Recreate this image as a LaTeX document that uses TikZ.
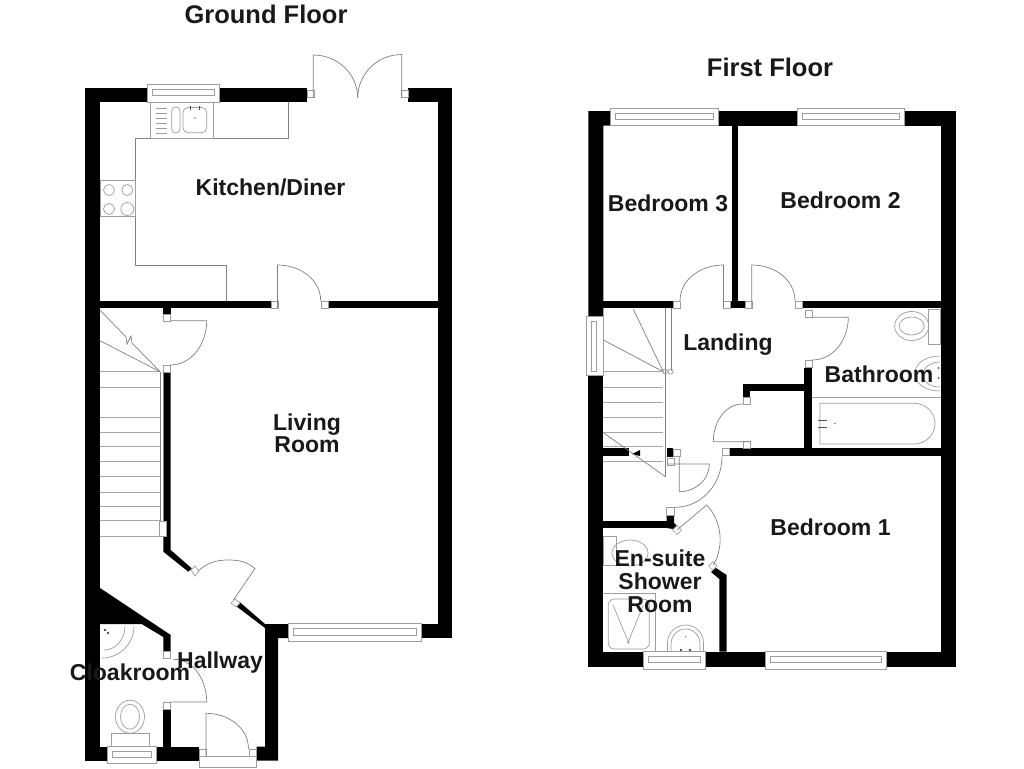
\documentclass[tikz,border=0pt]{standalone}
\usepackage{fontspec}
\setmainfont{Liberation Sans}
\tikzset{
  wall/.style={fill=black},
  thinline/.style={draw=black!50,line width=0.7pt},
  fitting/.style={draw=black!38,line width=0.7pt},
  jamb/.style={draw=black!38,fill=white,line width=0.7pt},
  tread/.style={draw=black!35,line width=1pt},
  room/.style={font=\fontsize{23}{24}\selectfont\bfseries,align=center,inner sep=0pt,text=black!90},
  title/.style={font=\fontsize{25.5}{27}\selectfont\bfseries,inner sep=0pt,text=black!90}
}
\begin{document}
\begin{tikzpicture}[x=1pt,y=-1pt]
\useasboundingbox[fill=white] (0,0) rectangle (1024,768);
% ground floor
\fill[wall] (85,88) rectangle (147,102);
\fill[wall] (100,588) -- (170.7,635) -- (170.7,652) -- (163.3,652) -- (163.3,637) -- (141.7,624) -- (100,624) -- cycle;
\fill[wall] (85,88) rectangle (100,761);
\fill[wall] (219,88) rectangle (307,102);
\fill[wall] (408,88) rectangle (451.7,102);
\fill[wall] (437.7,88) rectangle (451.7,638);
\fill[wall] (421.7,624) rectangle (451.7,638);
\fill[wall] (100,300.7) rectangle (271.7,308.3);
\fill[wall] (328.3,300.7) rectangle (437.7,308.3);
\fill[wall] (163.3,308) rectangle (170.7,314);
\fill[wall] (163.3,371.7) -- (170.7,371.7) -- (170.7,550) -- (191.7,568.3) -- (188.3,571.7) -- (163.3,551.7) -- cycle;
\fill[wall] (239.3,601.7) -- (265,624) -- (288,624) -- (288,638) -- (278,638) -- (278,760.7) -- (256.7,760.7) -- (256.7,746.7) -- (265,746.7) -- (265,628) -- (236,606) -- cycle;
\fill[wall] (107,746.7) -- (85,746.7) -- (85,760.7) -- (107,760.7) -- cycle;
\fill[wall] (156.7,746.7) rectangle (199,760.7);
\fill[wall] (163.3,709.3) rectangle (170.7,746.7);
\foreach \xa/\ya in {307/90.5,401/90.5,271.5/301,321/301,163.3/314,163.3/365,163.3/651.7,163.3/702,199.5/749,249.5/749}
  \draw[jamb] (\xa,\ya) rectangle ++(7,7);
\draw[jamb] (191,570) -- (195,566) -- (199,571) -- (195,576) -- cycle;
\draw[jamb] (231,603) -- (235,599) -- (240,603) -- (236,607) -- cycle;
% ground floor windows
\foreach \xa/\ya/\xb/\yb in {147/84.5/219/102,288/623.5/421.7/641.7,107/746.7/156.7/763.5}{
  \draw[jamb] (\xa,\ya) rectangle (\xb,\yb);
  \draw[fitting] ({\xa+5},{\ya+5}) rectangle ({\xb-5},{\yb-6.5});
}
\draw[jamb] (199,756.7) rectangle (256.7,767);
% ground floor doors
\draw[thinline] (313.3,98) -- (313.3,55) to[out=0,in=90] (357.7,98);
\draw[thinline] (401.7,98) -- (401.7,54.5) to[out=180,in=90] (357.7,98);
\draw[thinline] (277.5,308) -- (277.5,265) to[out=0,in=90] (320.7,301);
\draw[thinline] (170,320.7) -- (206.7,320.7) to[out=-90,in=0] (170,365);
\draw[thinline] (198,571) to[out=40,in=180] (228,560) to[out=0,in=140] (255,568.5) -- (233.5,600);
\draw[thinline] (170,702) -- (206.7,702) to[out=90,in=0] (173.3,659.3);
\draw[thinline] (206,756) -- (206,713.3) to[out=0,in=90] (248.5,749);
% kitchen units
\draw[thinline] (135.7,138.3) -- (288.3,138.3) -- (288.3,102);
\draw[thinline] (135.7,138.3) -- (135.7,265) -- (226.7,265) -- (226.7,300.7);
\draw[fitting] (150,102) rectangle (213.3,138.3);
\draw[fitting] (100,180.7) rectangle (135.7,216.7);
\foreach \xa/\ya/\ra in {109/190/5.5,127.3/190/5.5,109/209/5.5,127.3/209/6.5}
  \draw[fitting] (\xa,\ya) circle (\ra);
\foreach \ya in {108,113,118,123,128,133}
  \draw[fitting] (156,\ya) -- (166.7,\ya);
\draw[fitting,rounded corners=4pt] (171.7,107) rectangle (180,133);
\draw[fitting,rounded corners=5pt] (183,107.5) rectangle (206.7,132.7);
\draw[black!70,line width=1pt] (190,105.5) -- (190,110) (199.3,105.5) -- (199.3,110);
\fill[black!50] (195,118) circle (0.8);
% ground floor stairs
\foreach \ya in {371.7,387.3,417.7,432,446,461.3,476.3,492,506.7,520.3,536}
  \draw[tread] (100,\ya) -- (160,\ya);
\draw[thinline] (160,371.7) -- (160,521.7) (163,371.7) -- (163,521.7);
\draw[jamb] (159,521.7) rectangle (166.7,536);
\draw[thinline] (100,310) -- (126,337) -- (127,344) -- (131,336) -- (132,343) -- (160,371.7);
\draw[thinline] (100,340.7) -- (160,371.7);
% cloakroom fittings
\draw[fitting] (134,626) to[out=-90,in=0] (102,658);
\draw[fitting] (125,626) to[out=-90,in=0] (104,650);
\fill[black!70] (105,630) circle (1.4) (108,633) circle (1.4);
\draw[fitting] (130,716.7) ellipse (14.5 and 16.5);
\draw[fitting] (130,716.7) ellipse (9.5 and 12.5);
\draw[fitting] (111,733) rectangle (149,746.7);
% first floor
\fill[wall] (588.3,111) -- (610.7,111) -- (610.7,125.7) -- (603.3,125.7) -- (603.3,316) -- (588.3,316) -- cycle;
\fill[wall] (588.3,375.7) rectangle (603.3,666.7);
\fill[wall] (718.3,111) rectangle (797.3,125.7);
\fill[wall] (904.3,111) rectangle (955.7,125.7);
\fill[wall] (940.7,111) rectangle (955.7,666.7);
\fill[wall] (731.7,125.7) rectangle (738.3,308.3);
\fill[wall] (603.3,301) rectangle (672.7,308.3);
\fill[wall] (730.7,301) rectangle (745,308.3);
\fill[wall] (802.7,301) rectangle (941,308.3);
\fill[wall] (804.3,367.7) rectangle (811.7,448.3);
\fill[wall] (742.7,384) rectangle (804.3,391);
\fill[wall] (742.7,384) rectangle (750,397.3);
\fill[wall] (730,448.3) rectangle (941,455.7);
\fill[wall] (603.3,448.3) rectangle (629.3,455.7);
\fill[wall] (632,454) -- (640,450) -- (640,456) -- cycle;
\fill[wall] (667.3,448.3) rectangle (672.7,457);
\fill[wall] (603.3,520.7) rectangle (674,528.3);
\fill[wall] (666.7,515) -- (674,515) -- (674,523) -- (677,526) -- (673,529) -- (666.7,528) -- cycle;
\fill[wall] (716,568) -- (726.7,575) -- (726.7,651.7) -- (719.3,651.7) -- (719.3,579) -- (711,572) -- cycle;
\fill[wall] (588.3,651.7) rectangle (643.3,666.7);
\fill[wall] (705,651.7) rectangle (765,666.7);
\fill[wall] (886,651.7) rectangle (955.7,666.7);
\foreach \xa/\ya in {673/301,723.5/301,745/301,795.5/301,805/310,805/360.5,743/397.5,743/441.5,722/448.5,673/449,667/458}
  \draw[jamb] (\xa,\ya) rectangle ++(7,7);
\draw[jamb] (666.5,507.5) rectangle ++(7.5,7.5);
\draw[jamb] (672.5,530) -- (677,525.5) -- (681.5,530) -- (677,534.5) -- cycle;
\draw[jamb] (708.5,566) -- (713,561.5) -- (717,566) -- (712.5,570) -- cycle;
% first floor windows
\foreach \xa/\ya/\xb/\yb in {610.7/108.3/718.3/125.7,797.3/108.3/904.3/125.7,643.3/651.7/705/669.3,765/651.7/886/669.3}{
  \draw[jamb] (\xa,\ya) rectangle (\xb,\yb);
  \draw[fitting] ({\xa+5},{\ya+5}) rectangle ({\xb-5},{\yb-6.5});
}
\draw[jamb] (586,316) rectangle (603.3,375.7);
\draw[fitting] (591,321) rectangle (596,371);
% first floor doors
\draw[thinline] (723.5,308) -- (723.5,265) to[out=180,in=90] (680,301);
\draw[thinline] (751.7,308) -- (751.7,265) to[out=0,in=90] (795,301);
\draw[thinline] (812,317.3) -- (848.3,317.3) to[out=-90,in=0] (812,360);
\draw[thinline] (750,441.7) -- (713.3,441.7) to[out=90,in=180] (743,404);
\draw[thinline] (667,464) -- (709.3,464) to[out=-90,in=0] (679.3,491.7) -- (679.3,456.5);
\draw[thinline] (722,456.5) to[out=-90,in=0] (675,507.3);
\draw[thinline] (677,530) -- (706.7,505) .. controls (721,520) and (725,545) .. (713.3,565);
% first floor stairs
\foreach \ya in {371.7,387.3,402.3,417.3,432,446,461}
  \draw[tread] (603.3,\ya) -- (663.3,\ya);
\draw[thinline] (665.5,308.3) -- (665.5,476.7) (671,308.3) -- (671,371);
\draw[thinline] (633.3,309.3) -- (663.3,371.7) -- (603.3,340);
\draw[thinline] (603.3,432.7) -- (665.5,476.7);
\draw[fitting] (665,371.5) circle (2.5) (670.5,371.5) circle (2.5);
% bathroom fittings
\draw[fitting] (911.7,326) ellipse (17 and 14.5);
\draw[fitting] (911.7,326) ellipse (12.5 and 9);
\draw[fitting] (928.3,309) rectangle (940.7,344.3);
\draw[fitting] (940,356) to[out=180,in=90] (915,373.5) to[out=-90,in=180] (940,391);
\draw[fitting] (940,362) to[out=180,in=90] (923,375) to[out=-90,in=180] (940,387);
\draw[fitting] (811.7,397.3) -- (940.7,397.3);
\draw[fitting] (820,403.3) -- (914,403.3) to[out=0,in=90] (935,423.5) to[out=-90,in=0] (914,444) -- (820,444) -- cycle;
\draw[black!70,line width=1pt] (818,420.5) -- (827,420.5) (818,427) -- (827,427);
\fill[black!50] (835,423.5) circle (0.8);
\fill[black!70] (938.5,368) circle (1) (938.5,378) circle (1);
% en-suite fittings
\draw[fitting] (603.3,536) rectangle (616,565);
\draw[fitting] (630,553) ellipse (18 and 13);
\draw[fitting] (603.3,593.3) -- (655,593.3) -- (655,651.7);
\draw[fitting,rounded corners=6pt] (608.3,599) rectangle (649.3,649);
\draw[fitting] (613,605) -- (628.3,641.7) -- (643.3,605);
\fill[black!50] (628.3,642.5) circle (1);
\draw[fitting] (667.5,651.7) -- (667.5,643) to[out=90,in=180] (685.7,625) to[out=0,in=90] (703.5,643) -- (703.5,651.7);
\draw[fitting] (671,651.7) -- (671,644) to[out=90,in=180] (685.7,629) to[out=0,in=90] (700,644) -- (700,651.7);
\fill[black!70] (681,650) circle (1.4) (690,650) circle (1.4);
\fill[black!50] (685.7,636.7) circle (0.8);
% labels
\node[title] (groundtitle) at (266,14) {Ground Floor};
\node[title] (firsttitle) at (770,67) {First Floor};
\node[room] (kitchen) at (270.5,187) {Kitchen/Diner};
\node[room] (living) at (307,433) {Living\\[-2pt]Room};
\node[room] (hallway) at (220,663) {Hallway};
\node[room] (cloakroom) at (130,672) {Cloakroom};
\node[room] (bedthree) at (668,203) {Bedroom 3};
\node[room] (bedtwo) at (840.5,200) {Bedroom 2};
\node[room] (landing) at (728,345) {Landing};
\node[room] (bathroom) at (879,374) {Bathroom};
\node[room] (bedone) at (830.5,527.5) {Bedroom 1};
\node[room] (ensuite) at (660,581) {En-suite\\[-1pt]Shower\\[-1pt]Room};
\end{tikzpicture}
\end{document}
